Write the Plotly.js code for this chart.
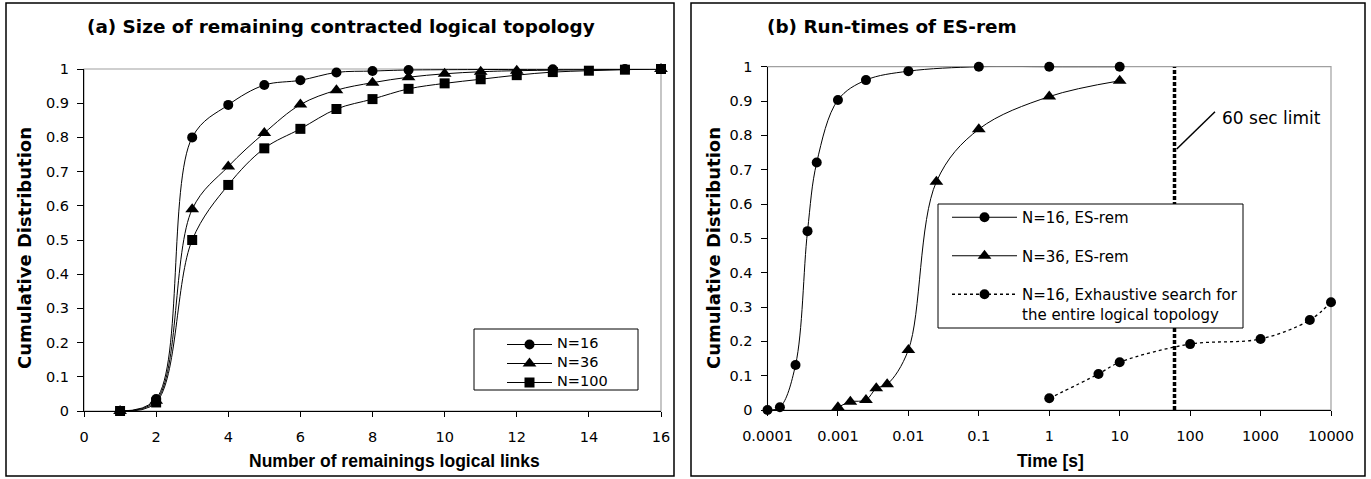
<!DOCTYPE html>
<html>
<head>
<meta charset="utf-8">
<script src="https://cdn.plot.ly/plotly-3.0.1.min.js"></script>
<style>html,body{margin:0;padding:0;background:#fff;}#chart{width:1371px;height:479px;}</style>
</head>
<body>
<div id="chart"></div>
<script>
// ---------- data: chart (a) ----------
const linksN16 = [1, 2, 3, 4, 5, 6, 7, 8, 9, 13, 15, 16];
const cdfN16   = [0, 0.035, 0.80, 0.895, 0.953, 0.967, 0.99, 0.994, 0.997, 0.999, 1, 1];
const linksN36 = [1, 2, 3, 4, 5, 6, 7, 8, 9, 10, 11, 12, 16];
const cdfN36   = [0, 0.03, 0.59, 0.715, 0.813, 0.896, 0.938, 0.96, 0.976, 0.986, 0.992, 0.995, 1];
const linksN100 = [1, 2, 3, 4, 5, 6, 7, 8, 9, 10, 11, 12, 13, 14, 15, 16];
const cdfN100   = [0, 0.025, 0.5, 0.661, 0.768, 0.825, 0.883, 0.912, 0.942, 0.958, 0.97, 0.982, 0.991, 0.995, 0.998, 1];
const xTicksA = [0, 2, 4, 6, 8, 10, 12, 14, 16];
const yTicks = [0, 0.1, 0.2, 0.3, 0.4, 0.5, 0.6, 0.7, 0.8, 0.9, 1];

// ---------- data: chart (b) ----------
const timeN16 = [0.0001, 0.00015, 0.00025, 0.00037, 0.0005, 0.001, 0.0025, 0.01, 0.1, 1, 10];
const cdfTimeN16 = [0, 0.008, 0.131, 0.521, 0.721, 0.903, 0.961, 0.987, 1, 1, 1];
const timeN36 = [0.001, 0.0015, 0.0025, 0.0035, 0.005, 0.01, 0.025, 0.1, 1, 10];
const cdfTimeN36 = [0.008, 0.024, 0.029, 0.063, 0.075, 0.175, 0.665, 0.818, 0.913, 0.959];
const timeExh = [1, 5, 10, 100, 1000, 5000, 10000];
const cdfExh = [0.034, 0.105, 0.139, 0.192, 0.207, 0.262, 0.314];
const limitTime = [60, 60];
const limitCdf = [0, 1];
const xTickValsB = [0.0001, 0.001, 0.01, 0.1, 1, 10, 100, 1000, 10000];
const xTickTextB = ["0.0001", "0.001", "0.01", "0.1", "1", "10", "100", "1000", "10000"];

const W = 1371, H = 479;
const px = x => x / W;
const py = y => 1 - y / H;
const FONT = 'DejaVu Sans';
const lg = t => '<span style="font-size:14.5px">' + t + '</span>';

const common = {type: 'scatter', mode: 'lines+markers', cliponaxis: false,
  line: {color: 'black', width: 1, shape: 'spline'}};

const traces = [
  Object.assign({}, common, {x: linksN16, y: cdfN16, name: lg('N=16'), xaxis: 'x', yaxis: 'y', legend: 'legend',
    marker: {symbol: 'circle', size: 10, color: 'black'}}),
  Object.assign({}, common, {x: linksN36, y: cdfN36, name: lg('N=36'), xaxis: 'x', yaxis: 'y', legend: 'legend',
    marker: {symbol: 'triangle-up', size: 12, color: 'black'}}),
  Object.assign({}, common, {x: linksN100, y: cdfN100, name: lg('N=100'), xaxis: 'x', yaxis: 'y', legend: 'legend',
    marker: {symbol: 'square', size: 10, color: 'black'}}),
  {type: 'scatter', mode: 'lines', x: limitTime, y: limitCdf, xaxis: 'x2', yaxis: 'y2', showlegend: false,
    cliponaxis: false, line: {color: 'black', width: 3.5, dash: '4px,2px'}, hoverinfo: 'skip'},
  Object.assign({}, common, {x: timeN16, y: cdfTimeN16, name: 'N=16, ES-rem', xaxis: 'x2', yaxis: 'y2',
    legend: 'legend2', legendgroup: 'a', marker: {symbol: 'circle', size: 10, color: 'black'}}),
  Object.assign({}, common, {x: timeN36, y: cdfTimeN36, name: 'N=36, ES-rem', xaxis: 'x2', yaxis: 'y2',
    legend: 'legend2', legendgroup: 'b', marker: {symbol: 'triangle-up', size: 12, color: 'black'}}),
  Object.assign({}, common, {x: timeExh, y: cdfExh, name: 'N=16, Exhaustive search for<br>the entire logical topology',
    xaxis: 'x2', yaxis: 'y2', legend: 'legend2', legendgroup: 'c',
    line: {color: 'black', width: 1.3, dash: 'dot', shape: 'spline'},
    marker: {symbol: 'circle', size: 10, color: 'black'}})
];

const axBase = {ticks: 'outside', ticklen: 5, tickcolor: 'black', tickwidth: 1, showline: true,
  linecolor: 'black', linewidth: 1, showgrid: false, zeroline: false,
  tickfont: {family: FONT, size: 14.5, color: 'black'}, fixedrange: true};

const layout = {
  width: W, height: H, margin: {l: 0, r: 0, t: 0, b: 0},
  paper_bgcolor: 'white', plot_bgcolor: 'rgba(0,0,0,0)',
  font: {family: FONT, color: 'black', size: 14.5},
  showlegend: true,
  xaxis: Object.assign({}, axBase, {domain: [px(84), px(661)], range: [0, 16], tickvals: xTicksA,
    anchor: 'y', ticklabelstandoff: 8}),
  yaxis: Object.assign({}, axBase, {domain: [py(411), py(69)], range: [0, 1], tickvals: yTicks,
    anchor: 'x', ticklen: 6, ticklabelstandoff: 5}),
  xaxis2: Object.assign({}, axBase, {type: 'log', domain: [px(767.5), px(1331)], range: [-4, 4],
    tickvals: xTickValsB, ticktext: xTickTextB, anchor: 'y2', ticklabelstandoff: 8}),
  yaxis2: Object.assign({}, axBase, {domain: [py(410), py(66.7)], range: [0, 1], tickvals: yTicks,
    anchor: 'x2', ticklen: 6, ticklabelstandoff: 5}),
  legend: {x: px(502), y: py(330), xanchor: 'left', yanchor: 'top', bgcolor: 'rgba(0,0,0,0)',
    borderwidth: 0, font: {family: FONT, size: 8, color: 'black'}, itemwidth: 45, tracegroupgap: 0},
  legend2: {x: px(947), y: py(201), xanchor: 'left', yanchor: 'top', bgcolor: 'rgba(0,0,0,0)',
    borderwidth: 0, font: {family: FONT, size: 15, color: 'black'}, itemwidth: 65, tracegroupgap: 16,
    valign: 'top'},
  shapes: [
    // outer frames
    {type: 'rect', xref: 'paper', yref: 'paper', x0: px(6), x1: px(674), y0: py(476), y1: py(3),
      line: {color: 'black', width: 1.5}, layer: 'below'},
    {type: 'rect', xref: 'paper', yref: 'paper', x0: px(691), x1: px(1365), y0: py(476), y1: py(3),
      line: {color: 'black', width: 1.5}, layer: 'below'},
    // plot-area borders (gray)
    {type: 'rect', xref: 'paper', yref: 'paper', x0: px(84), x1: px(661), y0: py(411), y1: py(69),
      line: {color: '#a0a0a0', width: 1.2}, layer: 'below'},
    {type: 'rect', xref: 'paper', yref: 'paper', x0: px(767.5), x1: px(1331), y0: py(410), y1: py(66.7),
      line: {color: '#a0a0a0', width: 1.2}, layer: 'below'},
    // legend boxes
    {type: 'rect', xref: 'paper', yref: 'paper', x0: px(474), x1: px(638), y0: py(390), y1: py(329),
      line: {color: 'black', width: 1}, fillcolor: 'white', layer: 'above'},
    {type: 'rect', xref: 'paper', yref: 'paper', x0: px(938), x1: px(1243), y0: py(328), y1: py(204),
      line: {color: 'black', width: 1}, fillcolor: 'white', layer: 'above'},
    // 60 sec limit connector
    {type: 'line', xref: 'paper', yref: 'paper', x0: px(1176.7), y0: py(149), x1: px(1215), y1: py(111.7),
      line: {color: 'black', width: 1.5}}
  ],
  annotations: [
    {text: '<b>(a) Size of remaining contracted logical topology</b>', xref: 'paper', yref: 'paper',
      x: px(85), y: py(27), xanchor: 'left', yanchor: 'middle', showarrow: false,
      font: {family: FONT, size: 18.4, color: 'black'}},
    {text: '<b>(b) Run-times of ES-rem</b>', xref: 'paper', yref: 'paper',
      x: px(765), y: py(27), xanchor: 'left', yanchor: 'middle', showarrow: false,
      font: {family: FONT, size: 18.4, color: 'black'}},
    {text: '<b>Number of remainings logical links</b>', xref: 'paper', yref: 'paper',
      x: px(394), y: py(461), xanchor: 'center', yanchor: 'middle', showarrow: false,
      font: {family: 'Liberation Sans', size: 17.5, color: 'black'}},
    {text: '<b>Time [s]</b>', xref: 'paper', yref: 'paper',
      x: px(1050), y: py(461), xanchor: 'center', yanchor: 'middle', showarrow: false,
      font: {family: 'Liberation Sans', size: 17.5, color: 'black'}},
    {text: '<b>Cumulative Distribution</b>', xref: 'paper', yref: 'paper', textangle: -90,
      x: px(25), y: py(248), xanchor: 'center', yanchor: 'middle', showarrow: false,
      font: {family: FONT, size: 18, color: 'black'}},
    {text: '<b>Cumulative Distribution</b>', xref: 'paper', yref: 'paper', textangle: -90,
      x: px(714), y: py(248), xanchor: 'center', yanchor: 'middle', showarrow: false,
      font: {family: FONT, size: 18, color: 'black'}},
    {text: '60 sec limit', xref: 'paper', yref: 'paper',
      x: px(1220), y: py(118), xanchor: 'left', yanchor: 'middle', showarrow: false,
      font: {family: FONT, size: 17, color: 'black'}}
  ]
};

Plotly.newPlot('chart', traces, layout, {displayModeBar: false, staticPlot: true});
</script>
</body>
</html>
